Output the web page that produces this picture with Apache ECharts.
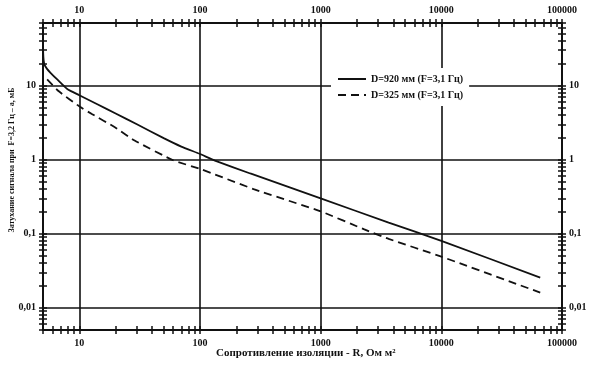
<!DOCTYPE html>
<html><head><meta charset="utf-8">
<script src="https://cdn.jsdelivr.net/npm/echarts@6/dist/echarts.min.js"></script>
<style>html,body{margin:0;padding:0;background:#fff}#c{width:598px;height:370px}</style>
</head><body><div id="c"></div>
<script>
// --- data ---
const seriesNames = ['D=920 мм (F=3,1 Гц)', 'D=325 мм (F=3,1 Гц)'];
const r920 = [5, 5.02, 5.06, 5.15, 5.4, 5.77, 6.56, 7.94, 10, 14.1, 20, 30, 50, 70, 100, 133, 261, 1000, 3660, 10000, 66000];
const a920 = [35, 27, 22, 19, 16.8, 14.9, 12.1, 9.0, 7.4, 5.6, 4.2, 3.0, 1.95, 1.5, 1.19, 0.97, 0.65, 0.30, 0.141, 0.080, 0.0255];
const r325 = [5.41, 6.76, 10, 12.8, 20, 28.7, 60, 100, 278, 1000, 2275, 3660, 10000, 66000];
const a325 = [12.1, 8.37, 5.24, 4.1, 2.7, 1.81, 0.98, 0.75, 0.40, 0.20, 0.115, 0.085, 0.049, 0.016];
const xLabels = [10, 100, 1000, 10000, 100000];
const yLabels = [0.01, 0.1, 1, 10];
const xTitle = 'Сопротивление изоляции - R, Ом м²';
const yTitle = 'Затухание сигнала при  F=3,2 Гц – а, мБ';

// --- helpers ---
function minorTicks(lo, hi) {
  const out = [];
  for (let e = -4; e <= 6; e++) {
    for (let m = 1; m <= 9; m++) {
      const v = Number((m * Math.pow(10, e)).toPrecision(6));
      if (v >= lo - 1e-12 && v <= hi + 1e-12) out.push(v);
    }
  }
  return out;
}
const XMIN = 5, XMAX = 100000, YMIN = 0.005, YMAX = 70;
const xTicks = minorTicks(XMIN, XMAX);
const yTicks = minorTicks(YMIN, YMAX);
const fmt = v => String(Number(Number(v).toPrecision(6))).replace('.', ',');
const FONT = 'Liberation Serif';
const ink = '#111';
const lblStyle = {fontFamily: FONT, fontWeight: 'bold', fontSize: 10, color: ink};

// kind: 'main' (line + labels + grid), 'out' (outer ticks), 'in' (inner ticks)
function axis(dir, pos, kind) {
  const isX = dir === 'x';
  const main = kind === 'main';
  const a = {
    type: 'log', logBase: 10,
    min: isX ? XMIN : YMIN, max: isX ? XMAX : YMAX, position: pos,
    axisLine: {show: main, lineStyle: {color: ink, width: 2}},
    axisLabel: {show: main, customValues: isX ? xLabels : yLabels, formatter: fmt, margin: isX ? 8 : 7, ...lblStyle},
    splitLine: {show: main && (pos === 'bottom' || pos === 'left'), lineStyle: {color: ink, width: 1.6}},
    minorTick: {show: false}, minorSplitLine: {show: false}
  };
  if (main) {
    a.axisTick = {show: false};
  } else {
    a.axisTick = {show: true, inside: kind === 'in', length: 4,
      customValues: isX ? xTicks : yTicks, lineStyle: {color: ink, width: 1.5}};
  }
  return a;
}

const chart = echarts.init(document.getElementById('c'), null, {renderer: 'canvas'});
chart.setOption({
  animation: false,
  backgroundColor: '#fff',
  grid: {left: 43, right: 36, top: 23, bottom: 40},
  xAxis: [axis('x', 'bottom', 'main'), axis('x', 'bottom', 'out'), axis('x', 'bottom', 'in'),
          axis('x', 'top', 'main'), axis('x', 'top', 'out'), axis('x', 'top', 'in')],
  yAxis: [axis('y', 'left', 'main'), axis('y', 'left', 'out'), axis('y', 'left', 'in'),
          axis('y', 'right', 'main'), axis('y', 'right', 'out'), axis('y', 'right', 'in')],
  legend: {
    orient: 'vertical', left: 331, top: 68, padding: [6, 6], itemGap: 6,
    itemWidth: 28, itemHeight: 10, backgroundColor: '#fff',
    itemStyle: {opacity: 0},
    textStyle: {fontFamily: FONT, fontWeight: 'bold', fontSize: 10, color: ink},
    data: seriesNames
  },
  graphic: [
    {type: 'text', left: 216, top: 348, style: {text: xTitle, fontFamily: FONT, fontWeight: 'bold', fontSize: 11, fill: ink}},
    {type: 'text', x: 8, y: 160, rotation: Math.PI / 2, style: {text: yTitle, fontFamily: FONT, fontWeight: 'bold', fontSize: 8, fill: ink, align: 'center', verticalAlign: 'top'}}
  ],
  series: [
    {name: seriesNames[0], type: 'line', symbol: 'none', smooth: 0.15, xAxisIndex: 0, yAxisIndex: 0,
     lineStyle: {color: ink, width: 1.8}, itemStyle: {color: ink},
     data: r920.map((x, i) => [x, a920[i]])},
    {name: seriesNames[1], type: 'line', symbol: 'none', smooth: 0.15, xAxisIndex: 0, yAxisIndex: 0,
     lineStyle: {color: ink, width: 1.8, type: [8, 5]}, itemStyle: {color: ink},
     data: r325.map((x, i) => [x, a325[i]])}
  ]
});
</script></body></html>
